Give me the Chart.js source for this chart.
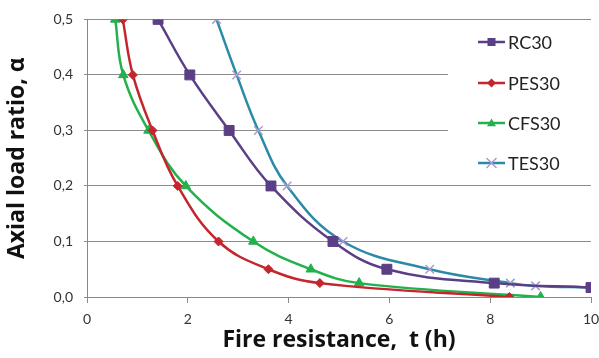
<!DOCTYPE html>
<html>
<head>
<meta charset="utf-8">
<script src="https://cdn.jsdelivr.net/npm/chart.js@4"></script>
<style>
  html, body { margin: 0; padding: 0; background: #fff; }
  #wrap { width: 599px; height: 358px; }
</style>
</head>
<body>
<div id="wrap"><canvas id="chart" width="599" height="358"></canvas></div>
<script>
// values (x = fire resistance in h, y = axial load ratio)
const rcX  = [1.41, 2.04, 2.82, 3.65, 4.88, 5.95, 8.08, 10.0];
const rcY  = [0.5, 0.4, 0.3, 0.2, 0.1, 0.05, 0.025, 0.017];
const pesX = [0.71, 0.91, 1.30, 1.80, 2.61, 3.60, 4.62, 8.38];
const pesY = [0.5, 0.4, 0.3, 0.2, 0.1, 0.05, 0.025, 0.0];
const cfsX = [0.56, 0.72, 1.22, 1.96, 3.30, 4.44, 5.40, 9.0];
const cfsY = [0.5, 0.4, 0.3, 0.2, 0.1, 0.05, 0.025, 0.0];
const tesX = [2.57, 2.97, 3.40, 3.97, 5.08, 6.80, 8.40, 8.90, 10.0];
const tesY = [0.5, 0.4, 0.3, 0.2, 0.1, 0.05, 0.025, 0.02, 0.017];

const xTicks = [0, 2, 4, 6, 8, 10];
const yTicks = [0, 0.1, 0.2, 0.3, 0.4, 0.5];

const toPoints = (xs, ys) => xs.map((x, i) => ({ x, y: ys[i] }));

function series(label, xs, ys, color, style, radius, markerColor) {
    return {
        label,
        data: toPoints(xs, ys),
        borderColor: color,
        backgroundColor: markerColor || color,
        pointBorderColor: markerColor || color,
        pointBackgroundColor: markerColor || color,
        pointStyle: style,
        pointRadius: radius,
        pointBorderWidth: style === 'crossRot' ? 1.5 : 1,
        borderWidth: 2.5,
        tension: 0.4,
        showLine: true,
        fill: false
    };
}

function drawMarker(ctx, style, r, x, y) {
    ctx.beginPath();
    if (style === 'rect') {
        ctx.rect(x - r, y - r, r * 2, r * 2);
        ctx.fill();
    } else if (style === 'rectRot') {
        ctx.moveTo(x, y - r); ctx.lineTo(x + r, y); ctx.lineTo(x, y + r); ctx.lineTo(x - r, y);
        ctx.closePath(); ctx.fill();
    } else if (style === 'triangle') {
        ctx.moveTo(x, y - r); ctx.lineTo(x + r, y + r * 0.7); ctx.lineTo(x - r, y + r * 0.7);
        ctx.closePath(); ctx.fill();
    } else {
        ctx.moveTo(x - r, y - r); ctx.lineTo(x + r, y + r);
        ctx.moveTo(x + r, y - r); ctx.lineTo(x - r, y + r);
        ctx.stroke();
    }
}

// legend drawn over the plot on a white box, like the original
const boxLegend = {
    id: 'boxLegend',
    afterDraw(chart) {
        const ctx = chart.ctx;
        ctx.save();
        ctx.fillStyle = '#fff';
        ctx.fillRect(448, 25, 143, 155);
        const rows = [42, 83, 123, 163];
        chart.data.datasets.forEach((ds, i) => {
            const y = rows[i];
            ctx.strokeStyle = ds.borderColor;
            ctx.lineWidth = 2.5;
            ctx.beginPath();
            ctx.moveTo(478, y);
            ctx.lineTo(505, y);
            ctx.stroke();
            const r = ds.pointStyle === 'rect' ? 4 : ds.pointStyle === 'crossRot' ? 5 : 4.5;
            ctx.fillStyle = ds.pointBackgroundColor;
            ctx.strokeStyle = ds.pointBorderColor;
            ctx.lineWidth = ds.pointBorderWidth;
            drawMarker(ctx, ds.pointStyle, r, 491.5, y);
            ctx.fillStyle = '#222';
            ctx.font = '18px Lato, "Open Sans", sans-serif';
            ctx.textBaseline = 'middle';
            ctx.textAlign = 'left';
            ctx.fillText(ds.label, 508, y + 1);
        });
        ctx.restore();
    }
};

const tickFont = { family: 'Lato, "Open Sans", sans-serif', size: 14 };
const titleFont = { family: '"Open Sans", Lato, sans-serif', size: 23, weight: 'bold' };

new Chart(document.getElementById('chart').getContext('2d'), {
    type: 'scatter',
    data: {
        datasets: [
            series('RC30', rcX, rcY, '#5b3f86', 'rect', 7),
            series('PES30', pesX, pesY, '#c3262c', 'rectRot', 4.5),
            series('CFS30', cfsX, cfsY, '#22b14c', 'triangle', 5.5),
            series('TES30', tesX, tesY, '#2b8ba6', 'crossRot', 6, '#a99ccf')
        ]
    },
    options: {
        responsive: false,
        animation: false,
        layout: { padding: { top: 19, right: 0, left: 0, bottom: 0 } },
        plugins: {
            legend: { display: false },
            tooltip: { enabled: false }
        },
        scales: {
            x: {
                type: 'linear',
                min: 0, max: 10,
                afterBuildTicks: axis => { axis.ticks = xTicks.map(v => ({ value: v })); },
                afterFit: axis => { axis.height = 61; axis.paddingRight = 8; },
                grid: { drawOnChartArea: false, drawTicks: true, tickLength: 6, color: '#888' },
                border: { color: '#888', width: 1 },
                ticks: { color: '#333', font: tickFont, padding: 8 },
                title: { display: true, text: 'Fire resistance,  t (h)', color: '#111', font: titleFont, padding: { top: 0, bottom: 4 } }
            },
            y: {
                type: 'linear',
                min: 0, max: 0.5,
                afterBuildTicks: axis => { axis.ticks = yTicks.map(v => ({ value: v })); },
                afterFit: axis => { axis.width = 87; },
                grid: { color: '#8c8c8c', lineWidth: 1, tickLength: 3 },
                border: { color: '#888', width: 1 },
                ticks: {
                    color: '#333', font: tickFont, padding: 11,
                    callback: v => v.toFixed(1).replace('.', ',')
                },
                title: { display: true, text: 'Axial load ratio, α', color: '#111', font: titleFont, padding: { top: 4, bottom: 0 } }
            }
        }
    },
    plugins: [boxLegend]
});
</script>
</body>
</html>
